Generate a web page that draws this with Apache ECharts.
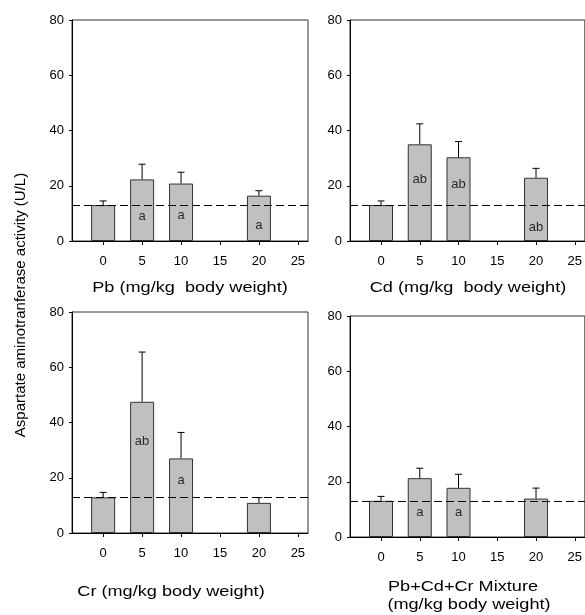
<!DOCTYPE html>
<html>
<head>
<meta charset="utf-8">
<script src="https://cdn.jsdelivr.net/npm/echarts@6/dist/echarts.min.js"></script>
<style>
  html, body { margin: 0; padding: 0; background: #fff; }
  #main { width: 585px; height: 615px; }
</style>
</head>
<body>
<div id="main"></div>
<script>
// doses (mg/kg body weight)
var doses = [0, 5, 10, 20];
var xTicks = [0, 5, 10, 15, 20, 25];
var control = 13;

// AST means and upper error (mean + SD)
var pbMean = [13, 22.3, 20.8, 16.4];
var pbErr  = [14.5, 27.8, 24.9, 18.2];
var pbLetters = ['', 'a', 'a', 'a'];
var pbLetterY = [0, 8.8, 9.4, 5.8];

var cdMean = [13, 35.0, 30.3, 22.9];
var cdErr  = [14.5, 42.4, 36.0, 26.3];
var cdLetters = ['', 'ab', 'ab', 'ab'];
var cdLetterY = [0, 22.3, 20.3, 4.8];

var crMean = [12.9, 47.5, 27.0, 10.9];
var crErr  = [14.7, 65.5, 36.4, 12.8];
var crLetters = ['', 'ab', 'a', ''];
var crLetterY = [0, 33.2, 18.9, 0];

var mixMean = [13.1, 21.3, 17.8, 13.9];
var mixErr  = [14.7, 24.9, 22.7, 17.7];
var mixLetters = ['', 'a', 'a', ''];
var mixLetterY = [0, 8.9, 8.9, 0];

var panels = [
  { mean: pbMean, err: pbErr, letters: pbLetters, ly: pbLetterY, grid: { left: 72, top: 20, width: 236, height: 221 } },
  { mean: cdMean, err: cdErr, letters: cdLetters, ly: cdLetterY, grid: { left: 350, top: 20, width: 236, height: 221 } },
  { mean: crMean, err: crErr, letters: crLetters, ly: crLetterY, grid: { left: 72, top: 312, width: 236, height: 221 } },
  { mean: mixMean, err: mixErr, letters: mixLetters, ly: mixLetterY, grid: { left: 350, top: 316, width: 236, height: 221 } }
];

var font = 'Liberation Sans, Arial, sans-serif';
var grids = [], xAxes = [], yAxes = [], series = [];

panels.forEach(function (p, i) {
  grids.push(Object.assign({ show: true, borderColor: '#333', borderWidth: 1, backgroundColor: 'transparent' }, p.grid));
  xAxes.push({
    type: 'value', gridIndex: i, min: -4, max: 26.3,
    axisLine: { onZero: false, lineStyle: { color: '#000', width: 1 } },
    axisTick: { customValues: xTicks, length: 4, lineStyle: { color: '#000' } },
    axisLabel: { customValues: xTicks, color: '#000', fontSize: 13, fontFamily: font, margin: 14 },
    splitLine: { show: false }
  });
  yAxes.push({
    type: 'value', gridIndex: i, min: 0, max: 80, interval: 20,
    axisLine: { show: true, onZero: false, lineStyle: { color: '#000', width: 1 } },
    axisTick: { show: true, length: 3, lineStyle: { color: '#000' } },
    axisLabel: { color: '#000', fontSize: 13, fontFamily: font, margin: 8 },
    splitLine: { show: false }
  });
  series.push({
    type: 'bar', xAxisIndex: i, yAxisIndex: i, barWidth: 24,
    data: doses.map(function (d, k) { return [d, p.mean[k]]; }),
    itemStyle: { color: '#c0c0c0', borderColor: '#333', borderWidth: 1 },
    markLine: {
      silent: true, symbol: 'none', label: { show: false },
      lineStyle: { color: '#000', type: [8, 4], width: 1 },
      data: [{ yAxis: control }]
    },
    z: 2
  });
  series.push({
    type: 'custom', xAxisIndex: i, yAxisIndex: i,
    data: doses.map(function (d, k) { return [d, p.mean[k], p.err[k]]; }),
    renderItem: function (params, api) {
      var base = api.coord([api.value(0), api.value(1)]);
      var top = api.coord([api.value(0), api.value(2)]);
      var st = { stroke: '#000', lineWidth: 1 };
      return {
        type: 'group',
        children: [
          { type: 'line', shape: { x1: base[0], y1: base[1], x2: top[0], y2: top[1] }, style: st },
          { type: 'line', shape: { x1: top[0] - 3.5, y1: top[1], x2: top[0] + 3.5, y2: top[1] }, style: st }
        ]
      };
    },
    z: 3
  });
  series.push({
    type: 'scatter', xAxisIndex: i, yAxisIndex: i, symbolSize: 0, silent: true,
    data: doses.map(function (d, k) { return { value: [d, p.ly[k]], name: p.letters[k] }; })
      .filter(function (o) { return o.name !== ''; }),
    label: {
      show: true, position: 'inside', formatter: '{b}',
      color: '#000', fontSize: 13, fontFamily: font
    },
    z: 4
  });
});

var titleStyle = { fill: '#000', fontSize: 14.5, fontFamily: font, textAlign: 'center', textVerticalAlign: 'middle' };
function txt(x, y, s, rot, sx) {
  return {
    type: 'text', x: x, y: y, rotation: rot || 0, scaleX: sx || 1,
    style: Object.assign({ text: s }, titleStyle)
  };
}

var chart = echarts.init(document.getElementById('main'), null, { renderer: 'canvas' });
chart.setOption({
  animation: false,
  backgroundColor: '#fff',
  grid: grids,
  xAxis: xAxes,
  yAxis: yAxes,
  series: series,
  graphic: [
    txt(190, 288, 'Pb (mg/kg  body weight)', 0, 1.25),
    txt(468, 288, 'Cd (mg/kg  body weight)', 0, 1.25),
    txt(171, 592, 'Cr (mg/kg body weight)', 0, 1.25),
    txt(463, 587, 'Pb+Cd+Cr Mixture', 0, 1.25),
    txt(469, 605, '(mg/kg body weight)', 0, 1.25),
    {
      type: 'text', x: 21, y: 305, rotation: Math.PI / 2,
      style: Object.assign({ text: 'Aspartate aminotranferase activity (U/L)' }, titleStyle, { fontSize: 15 })
    }
  ]
});
</script>
</body>
</html>
